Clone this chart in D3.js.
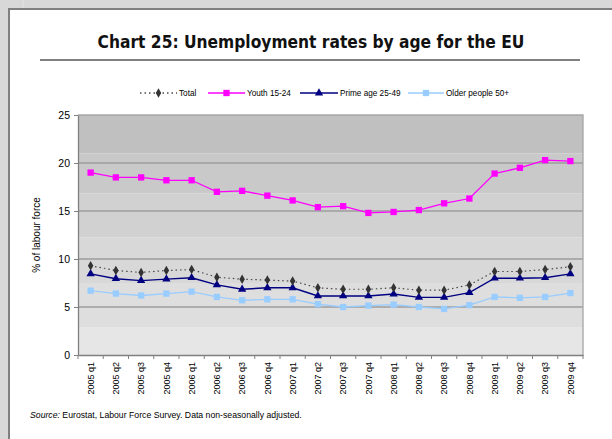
<!DOCTYPE html>
<html>
<head>
<meta charset="utf-8">
<script src="https://cdn.jsdelivr.net/npm/d3@7/dist/d3.min.js"></script>
<style>
  html, body { margin: 0; padding: 0; background: #d8d8d8; }
  svg { display: block; }
</style>
</head>
<body>
<svg id="chart" width="612" height="439"></svg>
<script>
// Quarterly unemployment rates (%) for the EU, by age group
const quarters = [
  "2005 q1", "2005 q2", "2005 q3", "2005 q4",
  "2006 q1", "2006 q2", "2006 q3", "2006 q4",
  "2007 q1", "2007 q2", "2007 q3", "2007 q4",
  "2008 q1", "2008 q2", "2008 q3", "2008 q4",
  "2009 q1", "2009 q2", "2009 q3", "2009 q4"
];
const total = [9.3, 8.8, 8.6, 8.8, 8.9, 8.1, 7.9, 7.8, 7.7, 7.0, 6.85, 6.85, 7.0, 6.75, 6.75, 7.3, 8.7, 8.7, 8.9, 9.2];
const youth = [19.0, 18.5, 18.5, 18.2, 18.2, 17.0, 17.1, 16.6, 16.1, 15.4, 15.5, 14.8, 14.9, 15.1, 15.8, 16.3, 18.9, 19.5, 20.3, 20.2];
const primeAge = [8.45, 7.95, 7.75, 7.9, 8.05, 7.3, 6.85, 7.0, 7.0, 6.15, 6.15, 6.15, 6.35, 6.0, 6.0, 6.5, 8.0, 8.0, 8.05, 8.45];
const older = [6.7, 6.4, 6.2, 6.4, 6.6, 6.05, 5.7, 5.8, 5.8, 5.3, 5.0, 5.15, 5.25, 5.0, 4.8, 5.2, 6.05, 5.95, 6.05, 6.45];
const yTicks = [0, 5, 10, 15, 20, 25];
const seriesNames = ["Total", "Youth 15-24", "Prime age 25-49", "Older people 50+"];

const svg = d3.select("#chart");
const W = 612, H = 439;

// page background and framed white panel
svg.append("rect").attr("width", W).attr("height", H).attr("fill", "#d8d8d8");
svg.append("line").attr("x1", 23).attr("x2", 23).attr("y1", 0).attr("y2", 8).attr("stroke", "#e4e4e4");
svg.append("rect").attr("x", 9).attr("y", 9).attr("width", W + 10).attr("height", H + 10)
  .attr("fill", "#ffffff").attr("stroke", "#7f7f7f").attr("stroke-width", 2);

// title and rule
const title = svg.append("text")
  .attr("x", 311).attr("y", 48).attr("text-anchor", "middle")
  .attr("font-family", "'DejaVu Sans Condensed', 'DejaVu Sans', sans-serif")
  .attr("font-weight", "bold").attr("font-size", 19).attr("fill", "#111")
  .text("Chart 25: Unemployment rates by age for the EU");
const tw = title.node().getComputedTextLength();
title.attr("font-size", 19 * 427 / tw);
svg.append("line").attr("x1", 40).attr("x2", 580).attr("y1", 60).attr("y2", 60)
  .attr("stroke", "#808080").attr("stroke-width", 2);

// plot area
const plot = { left: 78, right: 583, top: 115, bottom: 355 };
const x = d3.scaleBand().domain(quarters).range([plot.left, plot.right]).padding(0);
const y = d3.scaleLinear().domain([0, 25]).range([plot.bottom, plot.top]);

// shaded background bands, darker toward the top
const bandEdges = [0, 2.85, 7.5, 12.25, 16.85, 21.0, 25];
const bandFill = ["#e6e6e6", "#dedede", "#d8d8d8", "#d1d1d1", "#c9c9c9", "#c0c0c0"];
svg.append("g").selectAll("rect").data(bandFill).join("rect")
  .attr("x", plot.left).attr("width", plot.right - plot.left)
  .attr("y", (d, i) => y(bandEdges[i + 1]))
  .attr("height", (d, i) => y(bandEdges[i]) - y(bandEdges[i + 1]))
  .attr("fill", d => d);

// horizontal gridlines
svg.append("g").selectAll("line").data(yTicks.filter(v => v > 0 && v < 25)).join("line")
  .attr("x1", plot.left).attr("x2", plot.right)
  .attr("y1", d => y(d)).attr("y2", d => y(d))
  .attr("stroke", "#9c9c9c").attr("stroke-width", 1.3);

// plot frame (top and right)
svg.append("path")
  .attr("d", `M${plot.left},${plot.top}H${plot.right}V${plot.bottom}`)
  .attr("fill", "none").attr("stroke", "#a6a6a6").attr("stroke-width", 1.3);

// y axis
const yAxis = svg.append("g").attr("transform", `translate(${plot.left},0)`)
  .call(d3.axisLeft(y).tickValues(yTicks).tickSize(4).tickPadding(4).tickSizeOuter(0));
yAxis.select(".domain").attr("stroke", "#808080").attr("stroke-width", 1.3);
yAxis.selectAll(".tick line").attr("stroke", "#808080");
yAxis.selectAll(".tick text")
  .attr("font-family", "'Liberation Sans', Arial, sans-serif").attr("font-size", 10.5).attr("fill", "#000");

svg.append("text")
  .attr("transform", `translate(40,235) rotate(-90)`)
  .attr("text-anchor", "middle")
  .attr("font-family", "'Liberation Sans', Arial, sans-serif").attr("font-size", 10).attr("fill", "#000")
  .text("% of labour force");

// x axis: labels at category centres, ticks at category boundaries
const xAxis = svg.append("g").attr("transform", `translate(0,${plot.bottom})`)
  .call(d3.axisBottom(x).tickSize(0).tickSizeOuter(0));
xAxis.select(".domain").attr("stroke", "#808080").attr("stroke-width", 1.3);
xAxis.selectAll(".tick text")
  .attr("font-family", "'Liberation Sans', Arial, sans-serif").attr("font-size", 9).attr("fill", "#000")
  .attr("transform", "rotate(-90)")
  .attr("text-anchor", "end")
  .attr("x", -7).attr("y", 0).attr("dy", "0.35em");
svg.append("g").selectAll("line").data(d3.range(quarters.length + 1)).join("line")
  .attr("x1", i => plot.left + i * x.step()).attr("x2", i => plot.left + i * x.step())
  .attr("y1", plot.bottom).attr("y2", plot.bottom + 4)
  .attr("stroke", "#808080");

// series
const cx = q => x(q) + x.bandwidth() / 2;
const series = [
  { name: seriesNames[3], values: older, color: "#99ccff", marker: "square", markerColor: "#99ccff", dash: null, width: 1.3 },
  { name: seriesNames[2], values: primeAge, color: "#000080", marker: "triangle", markerColor: "#000080", dash: null, width: 1.4 },
  { name: seriesNames[0], values: total, color: "#4a4a4a", marker: "diamond", markerColor: "#333333", dash: "1.5,3", width: 1.2 },
  { name: seriesNames[1], values: youth, color: "#ff00ff", marker: "square", markerColor: "#ff00ff", dash: null, width: 1.3 }
];
const symbolOf = { square: d3.symbolSquare, triangle: d3.symbolTriangle, diamond: d3.symbolDiamond };
const sizeOf = { square: 40, triangle: 30, diamond: 26 };
const line = d3.line().x(d => cx(d.q)).y(d => y(d.v));

series.forEach(s => {
  const pts = quarters.map((q, i) => ({ q, v: s.values[i] }));
  svg.append("path").datum(pts)
    .attr("d", line).attr("fill", "none")
    .attr("stroke", s.color).attr("stroke-width", s.width)
    .attr("stroke-dasharray", s.dash);
  svg.append("g").selectAll("path").data(pts).join("path")
    .attr("transform", d => `translate(${cx(d.q)},${y(d.v)})`)
    .attr("d", d3.symbol().type(symbolOf[s.marker]).size(sizeOf[s.marker]))
    .attr("fill", s.markerColor);
});

// legend
const legendItems = [
  { name: seriesNames[0], x0: 140, x1: 177, color: "#4a4a4a", dash: "1.5,3", marker: "diamond", markerColor: "#333333" },
  { name: seriesNames[1], x0: 208, x1: 245, color: "#ff00ff", dash: null, marker: "square", markerColor: "#ff00ff" },
  { name: seriesNames[2], x0: 300, x1: 338, color: "#000080", dash: null, marker: "triangle", markerColor: "#000080" },
  { name: seriesNames[3], x0: 408, x1: 444, color: "#99ccff", dash: null, marker: "square", markerColor: "#99ccff" }
];
const ly = 93;
const legend = svg.append("g").selectAll("g").data(legendItems).join("g");
legend.append("line")
  .attr("x1", d => d.x0).attr("x2", d => d.x1).attr("y1", ly).attr("y2", ly)
  .attr("stroke", d => d.color).attr("stroke-width", 1.3).attr("stroke-dasharray", d => d.dash);
legend.append("path")
  .attr("transform", d => `translate(${(d.x0 + d.x1) / 2},${ly})`)
  .attr("d", d => d3.symbol().type(symbolOf[d.marker]).size(sizeOf[d.marker])())
  .attr("fill", d => d.markerColor);
legend.append("text")
  .attr("x", d => d.x1 + 2).attr("y", ly).attr("dy", "0.35em")
  .attr("font-family", "'Liberation Sans', Arial, sans-serif").attr("font-size", 8.2).attr("fill", "#000")
  .text(d => d.name);

// source note
const note = svg.append("text").attr("x", 30).attr("y", 418)
  .attr("font-family", "'Liberation Sans', Arial, sans-serif").attr("font-size", 8.7).attr("fill", "#000");
note.append("tspan").attr("font-style", "italic").text("Source:");
note.append("tspan").text("  Eurostat, Labour Force Survey. Data non-seasonally adjusted.");
</script>
</body>
</html>
